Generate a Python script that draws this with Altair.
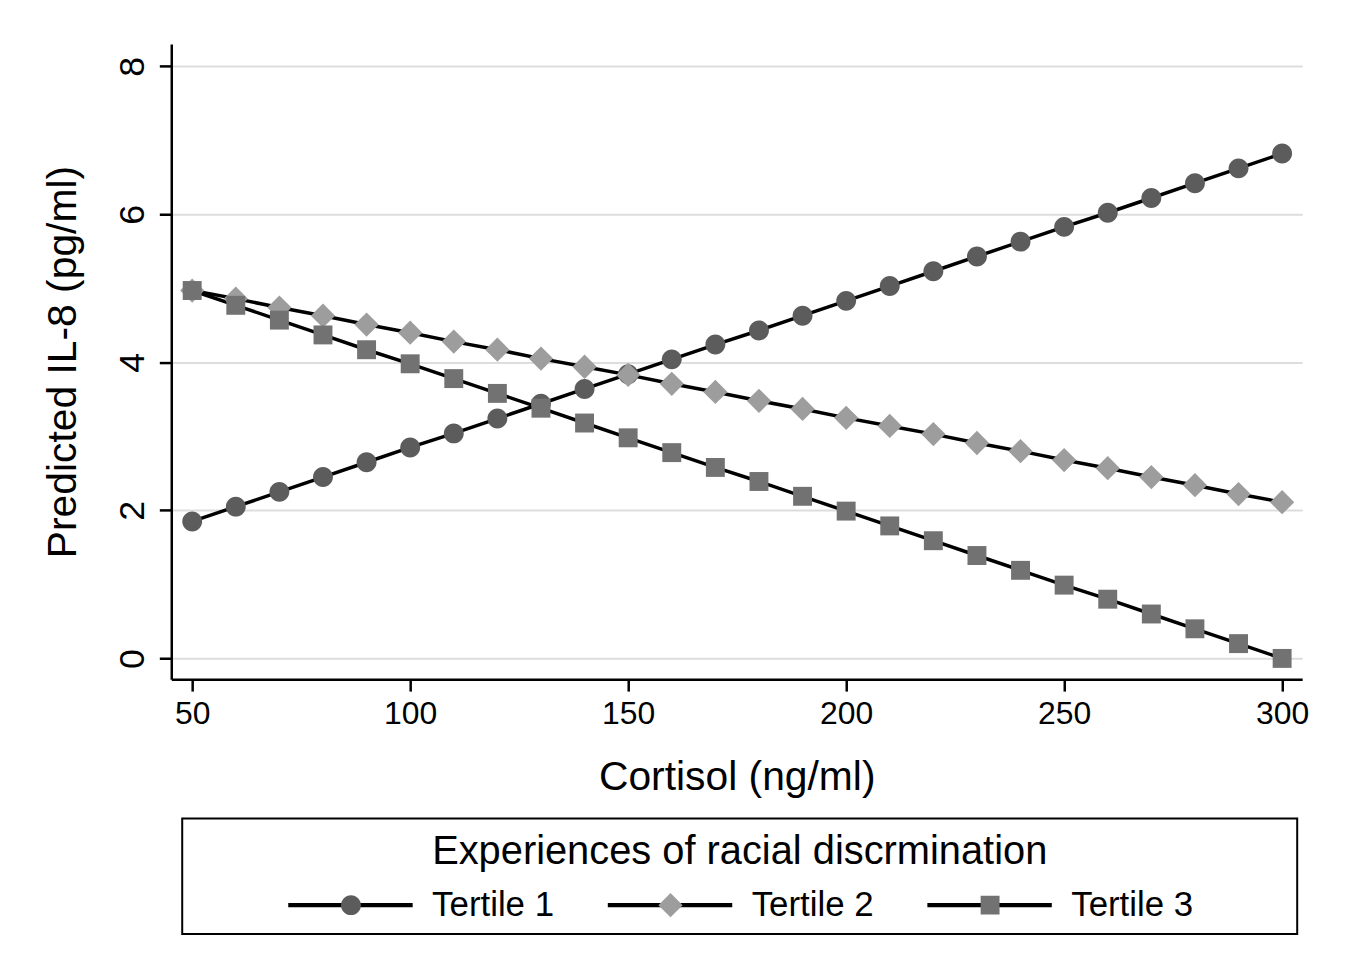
import altair as alt
import pandas as pd

# ---- data ----
cortisol = [50, 60, 70, 80, 90, 100, 110, 120, 130, 140, 150, 160, 170,
            180, 190, 200, 210, 220, 230, 240, 250, 260, 270, 280, 290, 300]
tertile1 = [1.85, 2.05, 2.25, 2.45, 2.65, 2.85, 3.04, 3.24, 3.44, 3.64, 3.84, 4.04, 4.24,
            4.43, 4.63, 4.83, 5.03, 5.23, 5.43, 5.63, 5.83, 6.02, 6.22, 6.42, 6.62, 6.82]
tertile2 = [4.97, 4.86, 4.74, 4.63, 4.51, 4.40, 4.28, 4.17, 4.05, 3.94, 3.83, 3.71, 3.60,
            3.48, 3.37, 3.25, 3.14, 3.03, 2.91, 2.80, 2.68, 2.57, 2.45, 2.34, 2.22, 2.11]
tertile3 = [4.97, 4.77, 4.57, 4.37, 4.17, 3.98, 3.78, 3.58, 3.38, 3.18, 2.98, 2.78, 2.58,
            2.39, 2.19, 1.99, 1.79, 1.59, 1.39, 1.19, 0.99, 0.80, 0.60, 0.40, 0.20, 0.00]
series_names = ["Tertile 1", "Tertile 2", "Tertile 3"]
x_ticks = [50, 100, 150, 200, 250, 300]
y_ticks = [0, 2, 4, 6, 8]
legend_title = "Experiences of racial discrmination"

# ---- styles ----
FONT = "Liberation Sans"
marker_colors = ["#5c5c5c", "#9d9d9d", "#727272"]
SYM = 125  # legend line length / symbol box in px
marker_paths = [
    "M-0.16,0A0.16,0.16,0,1,0,0.16,0A0.16,0.16,0,1,0,-0.16,0Z",
    "M0,-0.195L0.195,0L0,0.195L-0.195,0Z",
    "M-0.152,-0.152L0.152,-0.152L0.152,0.152L-0.152,0.152Z",
]

rows = []
for name, vals in zip(series_names, [tertile1, tertile2, tertile3]):
    for c, v in zip(cortisol, vals):
        rows.append({"cortisol": c, "il8": v, "series": name, "grp": name, "box": "box"})
df = pd.DataFrame(rows)

x_enc = alt.X("cortisol:Q",
              scale=alt.Scale(domain=[45.2, 304.6], nice=False, zero=False),
              axis=alt.Axis(values=x_ticks, title="Cortisol (ng/ml)", grid=False,
                            labelPadding=8, titlePadding=28))
y_enc = alt.Y("il8:Q",
              scale=alt.Scale(domain=[-0.28, 8.3], nice=False, zero=False),
              axis=alt.Axis(values=y_ticks, title="Predicted IL-8 (pg/ml)", grid=True,
                            labelAngle=270, labelAlign="center", labelBaseline="bottom",
                            labelFontSize=36, labelPadding=8, titlePadding=30))

LY = 845
common_leg = dict(orient="none", legendY=LY, direction="horizontal",
                  title=None, symbolSize=SYM * SYM, labelFont=FONT, labelFontSize=35,
                  labelColor="black", labelOffset=17, padding=0, clipHeight=40)

# line part of the legend entries (with the labels)
legend_a = alt.Legend(legendX=115, symbolType="stroke", symbolStrokeWidth=4.5,
                      columnPadding=51, **common_leg)
# marker part of the legend entries, laid over the lines (no labels of its own)
legend_b = alt.Legend(legendX=118, symbolStrokeWidth=0, labelExpr="''",
                      columnPadding=179, **common_leg)
# framed box with the legend title
legend_c = alt.Legend(orient="none", legendX=11, legendY=778, title=legend_title,
                      titleAnchor="middle", titleFont=FONT, titleFontSize=40,
                      titleFontWeight="normal", titleColor="black", titlePadding=6,
                      titleLimit=3000,
                      symbolType="stroke", symbolSize=1092 * 1092, symbolStrokeWidth=0,
                      labelExpr="''", labelFontSize=1, labelOffset=0,
                      clipHeight=42, padding=14, strokeColor="black")

lines = alt.Chart(df).mark_line(strokeWidth=3.5).encode(
    x=x_enc, y=y_enc,
    color=alt.Color("series:N", scale=alt.Scale(domain=series_names, range=["black"] * 3),
                    legend=legend_a),
)

points = alt.Chart(df).mark_point(filled=True, size=SYM * SYM, opacity=1, strokeWidth=0).encode(
    x=x_enc, y=y_enc,
    shape=alt.Shape("grp:N", scale=alt.Scale(range=marker_paths), legend=legend_b),
    fill=alt.Fill("grp:N", scale=alt.Scale(range=marker_colors), legend=legend_b),
)

box = alt.Chart(df).mark_point(opacity=0).encode(
    x=x_enc, y=y_enc,
    stroke=alt.Stroke("box:N", scale=alt.Scale(range=["transparent"]), legend=legend_c),
)

chart = alt.layer(lines, points, box).resolve_scale(
    color="independent", shape="independent", fill="independent", stroke="independent"
).properties(
    width=1136, height=638,
    autosize=alt.AutoSizeParams(type="none"),
    padding={"left": 164, "top": 34, "right": 40, "bottom": 290},
    background="white",
).configure_view(stroke=None).configure_axis(
    domainColor="black", domainWidth=2.5, tickColor="black", tickWidth=2.5, tickSize=12,
    labelFont=FONT, labelFontSize=32, labelColor="black",
    titleFont=FONT, titleFontSize=41, titleFontWeight="normal", titleColor="black",
    gridColor="#dddddd", gridWidth=2,
).configure_legend(strokeWidth=2)

chart.save("out.html", embed_options={"renderer": "svg", "actions": False})
